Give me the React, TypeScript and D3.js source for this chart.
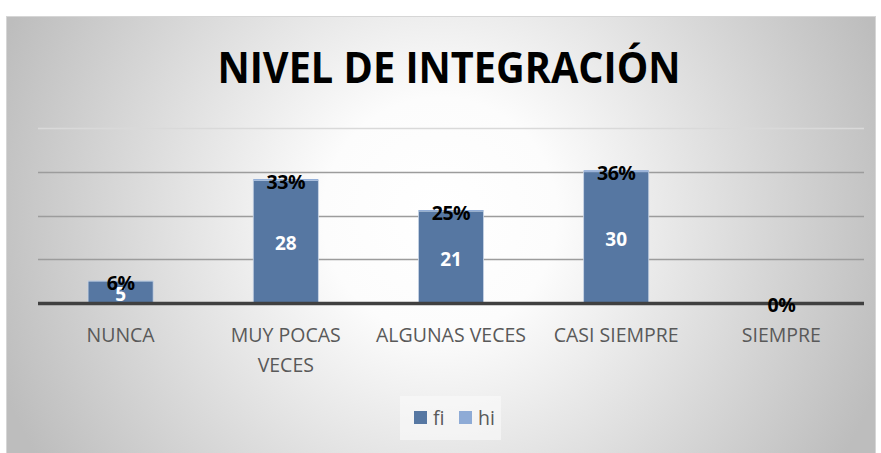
import * as d3 from 'd3'
import React, { useEffect, useRef } from 'react'

const categories = [['NUNCA'], ['MUY POCAS', 'VECES'], ['ALGUNAS VECES'], ['CASI SIEMPRE'], ['SIEMPRE']]
const fi = [5, 28, 21, 30, 0]
const hi = [0.06, 0.33, 0.25, 0.36, 0]
const hiLabels = ['6%', '33%', '25%', '36%', '0%']
const yTicks = [10, 20, 30, 40]
const seriesNames = ['fi', 'hi']

const W = 881
const H = 453
const fiColor = '#5677a2'
const hiColor = '#8eabd6'
const font = '"Open Sans", "DejaVu Sans", sans-serif'

function App () {
  const ref = useRef(null)

  useEffect(() => {
    const svg = d3.select(ref.current)
    svg.selectAll('*').remove()

    const defs = svg.append('defs')
    const grad = defs.append('radialGradient')
      .attr('id', 'bg').attr('gradientUnits', 'userSpaceOnUse')
      .attr('cx', 440).attr('cy', 215).attr('r', 470)
    grad.append('stop').attr('offset', 0).attr('stop-color', '#ffffff')
    grad.append('stop').attr('offset', 0.25).attr('stop-color', '#fcfcfc')
    grad.append('stop').attr('offset', 1).attr('stop-color', '#bdbdbd')

    svg.append('rect').attr('x', 0).attr('y', 0).attr('width', W).attr('height', H).attr('fill', '#fff')
    svg.append('rect')
      .attr('x', 6.5).attr('y', 16.5).attr('width', 869).attr('height', 450)
      .attr('fill', 'url(#bg)').attr('stroke', '#d6d6d6')

    // title
    svg.append('text')
      .attr('x', 449).attr('y', 83)
      .attr('text-anchor', 'middle')
      .attr('font-family', font).attr('font-weight', 700).attr('font-size', 43)
      .attr('textLength', 463).attr('lengthAdjust', 'spacingAndGlyphs')
      .attr('fill', '#000')
      .text('NIVEL DE INTEGRACIÓN')

    const x = d3.scaleBand().domain(d3.range(categories.length)).range([38, 864]).paddingInner(0.606).paddingOuter(0.303)
    const y = d3.scaleLinear().domain([0, 40]).range([303, 128])

    // gridlines
    svg.append('g').selectAll('line').data(yTicks).enter().append('line')
      .attr('x1', 38).attr('x2', 864)
      .attr('y1', d => Math.round(y(d)) + 0.5).attr('y2', d => Math.round(y(d)) + 0.5)
      .attr('stroke', (d, i) => i === yTicks.length - 1 ? '#d9d9d9' : '#9c9c9c')
      .attr('stroke-width', 1.5)

    const stack = d3.stack().keys(seriesNames)
    const rows = fi.map((v, i) => ({ fi: v, hi: hi[i] }))
    const layers = stack(rows)
    const colors = [fiColor, hiColor]

    layers.forEach((layer, k) => {
      svg.append('g').selectAll('rect').data(layer).enter().append('rect')
        .attr('x', (d, i) => x(i))
        .attr('width', x.bandwidth())
        .attr('y', d => y(d[1]))
        .attr('height', d => Math.max(0, y(d[0]) - y(d[1])))
        .attr('fill', colors[k])
        .attr('stroke', k === 0 ? '#c9d5e6' : 'none')
        .attr('stroke-width', 0.8)
    })

    // baseline
    svg.append('line')
      .attr('x1', 38).attr('x2', 864).attr('y1', y(0) + 0.5).attr('y2', y(0) + 0.5)
      .attr('stroke', '#404040').attr('stroke-width', 3.5)

    // fi labels
    svg.append('g').selectAll('text').data(layers[0]).enter()
      .filter(d => d.data.fi > 0)
      .append('text')
      .attr('x', (d, i) => x(i) + x.bandwidth() / 2)
      .attr('y', d => (y(d[0]) + y(d[1])) / 2 + 8.5)
      .attr('text-anchor', 'middle')
      .attr('font-family', font).attr('font-weight', 700).attr('font-size', 19)
      .attr('fill', '#fff')
      .text(d => d.data.fi)

    // hi labels
    svg.append('g').selectAll('text').data(layers[1]).enter().append('text')
      .attr('x', (d, i) => x(i) + x.bandwidth() / 2)
      .attr('y', d => (y(d[0]) + y(d[1])) / 2 + 9)
      .attr('text-anchor', 'middle')
      .attr('font-family', font).attr('font-weight', 700).attr('font-size', 19.5)
      .attr('letter-spacing', -0.5)
      .attr('fill', '#000')
      .text((d, i) => hiLabels[i])

    // category labels
    const cat = svg.append('g').selectAll('text').data(categories).enter().append('text')
      .attr('x', (d, i) => x(i) + x.bandwidth() / 2)
      .attr('y', 342)
      .attr('text-anchor', 'middle')
      .attr('font-family', font).attr('font-size', 19.5)
      .attr('fill', '#595959')
    cat.selectAll('tspan').data(d => d).enter().append('tspan')
      .attr('x', function () { return d3.select(this.parentNode).attr('x') })
      .attr('dy', (d, j) => j === 0 ? 0 : 30)
      .text(d => d)

    // legend
    const legend = svg.append('g')
    legend.append('rect').attr('x', 400).attr('y', 396).attr('width', 101).attr('height', 44).attr('fill', '#fafafa').attr('opacity', 0.6)
    const lx = [414, 459]
    seriesNames.forEach((s, k) => {
      legend.append('rect').attr('x', lx[k]).attr('y', 411).attr('width', 13).attr('height', 13).attr('fill', colors[k])
      legend.append('text').attr('x', lx[k] + 19).attr('y', 425)
        .attr('font-family', font).attr('font-size', 19.5).attr('fill', '#595959')
        .text(s)
    })
  }, [])

  return (
    <svg ref={ref} width={W} height={H} style={{ position: 'absolute', left: 0, top: 0, display: 'block' }} />
  )
}

export default App
